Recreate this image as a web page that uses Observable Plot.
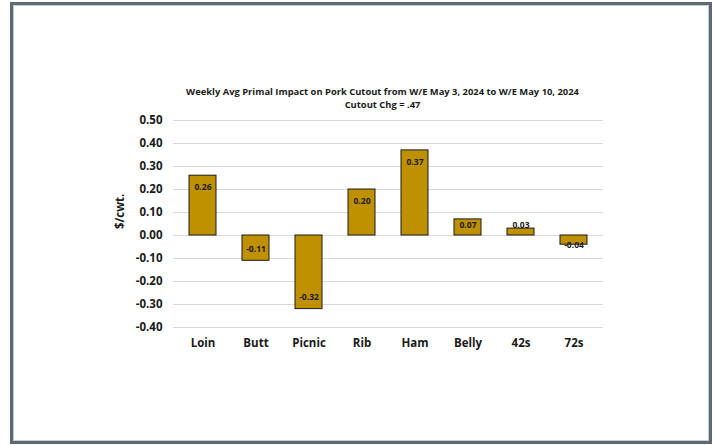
<!DOCTYPE html>
<html>
<head>
<meta charset="utf-8">
<script src="https://cdn.jsdelivr.net/npm/d3@7"></script>
<script src="https://cdn.jsdelivr.net/npm/@observablehq/plot@0.6"></script>
<style>
  html, body { margin: 0; padding: 0; background: #fff; }
  #wrap { position: relative; width: 716px; height: 445px; overflow: hidden; }
  #frame { position: absolute; left: 10px; top: 2px; width: 696px; height: 436px;
           border: 3px solid #5d6973; box-shadow: inset 0 0 0 1px #c8ccd0; }
  #chart { position: absolute; left: 0; top: 0; }
  #chart svg text { font-weight: 700; }
</style>
</head>
<body>
<div id="wrap">
  <div id="frame"></div>
  <div id="chart"></div>
</div>
<script>
const categories = ["Loin", "Butt", "Picnic", "Rib", "Ham", "Belly", "42s", "72s"];
const values = [0.26, -0.11, -0.32, 0.20, 0.37, 0.07, 0.03, -0.04];
const yTicks = [0.5, 0.4, 0.3, 0.2, 0.1, 0, -0.1, -0.2, -0.3, -0.4];
const titleLines = [
  "Weekly Avg Primal Impact on Pork Cutout from W/E May 3, 2024 to W/E May 10, 2024",
  "Cutout Chg = .47"
];
const yLabel = "$/cwt.";

const data = categories.map((c, i) => ({ cat: c, v: values[i] }));

const marginTop = 120, marginBottom = 118, marginLeft = 173, marginRight = 113;
const H = 445;
const pxPerUnit = (H - marginTop - marginBottom) / 0.9;
// Excel "inside end" label placement: label centre sits inside the bar end
function labelY(d) {
  const h = Math.abs(d.v) * pxPerUnit;
  const off = Math.min(12, h - 10) / pxPerUnit;
  return d.v - Math.sign(d.v) * off;
}

const font = "'Open Sans', 'Noto Sans', sans-serif";

const chart = Plot.plot({
  width: 716,
  height: H,
  marginTop, marginBottom, marginLeft, marginRight,
  style: { fontFamily: font, background: "transparent", overflow: "visible" },
  x: { domain: categories, paddingInner: 0.49, paddingOuter: 0.245, label: null },
  y: { domain: [-0.4, 0.5], label: null },
  marks: [
    Plot.ruleY(yTicks, { stroke: "#d9d9d9", strokeWidth: 1.2 }),
    Plot.barY(data, { x: "cat", y: "v", fill: "#bf9000", stroke: "#1a1a1a", strokeWidth: 1 }),
    Plot.text(data, {
      x: "cat", y: labelY, text: d => d.v.toFixed(2),
      fontSize: 8.5, fontWeight: "bold", fill: "#1a1a1a"
    }),
    Plot.axisY({
      ticks: yTicks, tickFormat: d => d.toFixed(2), tickSize: 0, tickPadding: 11,
      fontSize: 11.5, fontWeight: "bold", fill: "#1a1a1a", label: null
    }),
    Plot.axisX({
      tickSize: 0, tickPadding: 11, fontSize: 11.5, fontWeight: "bold", fill: "#1a1a1a", label: null
    }),
    Plot.text([yLabel], {
      frameAnchor: "left", text: d => d, rotate: -90, dx: -53, dy: 5,
      fontSize: 11.5, fontWeight: "bold", fill: "#1a1a1a"
    }),
    Plot.text([titleLines[0]], {
      frameAnchor: "top", text: d => d, dx: -6, dy: -32,
      fontSize: 9.4, fontWeight: "bold", fill: "#1a1a1a"
    }),
    Plot.text([titleLines[1]], {
      frameAnchor: "top", text: d => d, dx: -6, dy: -19,
      fontSize: 9.4, fontWeight: "bold", fill: "#1a1a1a"
    })
  ]
});
document.getElementById("chart").appendChild(chart);
</script>
</body>
</html>
